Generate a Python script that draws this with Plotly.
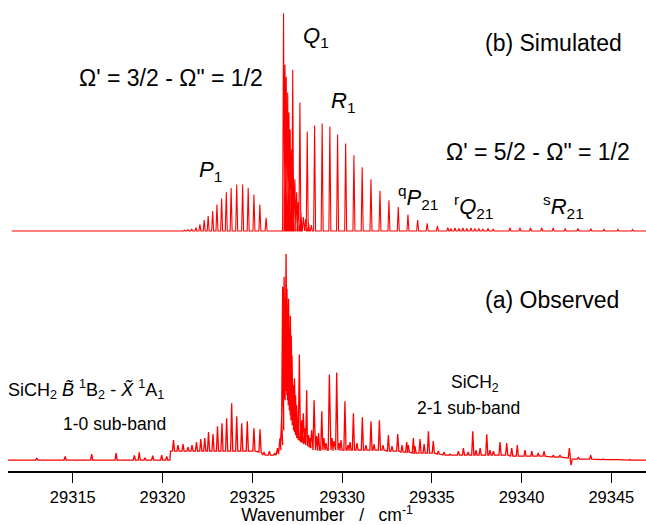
import plotly.graph_objects as go

# ---------------- data (wavenumber / cm-1, intensity in arbitrary units) ----------------
x_range = [29311.39, 29346.93]
tick_vals = [29315, 29320, 29325, 29330, 29335, 29340, 29345]

# Simulated spectrum: line positions and intensities
sim_P1_wn = [29321.02, 29321.22, 29321.41, 29321.62, 29321.86, 29322.08, 29322.32, 29322.54,
             29322.79, 29323.03, 29323.29, 29323.55, 29323.82, 29324.13, 29324.46, 29324.77,
             29325.09, 29325.42, 29325.77]
sim_P1_int = [0.5, 0.8, 1.3, 2, 3.3, 6.7, 11, 15, 20, 26.7, 32.7, 39, 43.3, 46.7, 46.7, 43.3,
              36.7, 26.7, 13.3]

sim_Q1_wn = [29326.74, 29326.82, 29326.89, 29326.97, 29327.04, 29327.11, 29327.19, 29327.28,
             29327.37, 29327.47, 29327.56, 29327.71, 29327.84, 29327.97, 29328.13, 29328.29]
sim_Q1_int = [218.7, 167, 155, 139, 119, 102, 82, 65, 52, 39, 29, 19, 14, 12, 8, 6]

sim_R1_wn = [29327.25, 29327.65, 29328.06, 29328.47, 29328.89, 29329.32, 29329.75, 29330.20,
             29330.66, 29331.12, 29331.61, 29332.11, 29332.61, 29333.13, 29333.67, 29334.21,
             29334.74, 29335.31, 29335.89]
sim_R1_int = [162, 129, 100, 106, 108, 105, 97, 88, 76, 64, 52, 40.5, 31, 24, 16.5, 11, 7.7,
              5.3, 3.5]

sim_rQ21_wn = [29336.06, 29336.29, 29336.51, 29336.73, 29336.95, 29337.18, 29337.40, 29337.62,
               29337.85, 29338.13, 29338.41]
sim_rQ21_int = [2.5, 3, 2.5, 3, 2.5, 3, 2.5, 2.5, 2, 2.5, 2]

sim_sR21_wn = [29339.35, 29339.91, 29340.50, 29341.12, 29341.76, 29342.43, 29343.14, 29343.86,
               29344.59, 29345.37, 29346.18]
sim_sR21_int = [3, 3, 3, 3, 3, 2.7, 2.5, 2.3, 2, 1.7, 1.5]

sim_span = [29311.6, 29346.93]

# Observed spectrum: feature positions, peak tops and local background (floor)
obs_wn = [29311.39, 29312.99, 29314.57, 29316.05, 29317.41, 29318.43, 29318.70, 29319.02,
          29319.45, 29319.95, 29320.23, 29320.35, 29320.50,
          29320.61, 29320.86, 29321.14, 29321.42, 29321.64, 29321.89, 29322.13, 29322.35,
          29322.56, 29322.81, 29323.06, 29323.31, 29323.57, 29323.85, 29324.13, 29324.41,
          29324.72, 29325.09, 29325.43, 29325.65, 29325.95, 29326.25, 29326.40,
          29326.54, 29326.63, 29326.69, 29326.77, 29326.82, 29326.88, 29326.93, 29326.98,
          29327.02, 29327.06, 29327.12, 29327.17, 29327.21, 29327.28, 29327.35, 29327.41,
          29327.47, 29327.53, 29327.62, 29327.69, 29327.75, 29327.84, 29327.91, 29328.03,
          29328.13, 29328.21, 29328.30, 29328.44, 29328.58, 29328.69, 29328.87, 29328.99,
          29329.11, 29329.29, 29329.44, 29329.55, 29329.70, 29329.83, 29329.94, 29330.16,
          29330.33, 29330.44, 29330.63, 29330.83, 29331.13, 29331.33, 29331.61, 29331.78,
          29332.08, 29332.28, 29332.58, 29332.78, 29333.10, 29333.34, 29333.60, 29333.69,
          29333.97, 29334.06, 29334.34, 29334.57, 29334.81, 29335.08, 29335.36, 29335.68,
          29336.01, 29336.48, 29336.76, 29337.02, 29337.28, 29337.46, 29337.69, 29338.06,
          29338.24, 29338.43, 29338.80, 29339.17, 29339.45, 29339.76, 29340.19, 29340.57,
          29340.93, 29341.25, 29341.77, 29342.14, 29342.66, 29342.76, 29343.16, 29343.85,
          29344.55, 29345.30, 29346.04, 29346.93]
obs_top = [0, 2, 3.7, 6, 7, 4.7, 7.7, 2.3,
           4.3, 5, 3.7, 0, 9,
           20, 15, 16, 13, 15, 18, 21, 22,
           28, 26, 34, 37, 42, 57, 44, 37,
           39, 32, 31, 8, 9, 7, 12,
           22, 42, 174, 184, 162, 207, 172, 149,
           162, 129, 145, 125, 105, 75, 82, 65,
           55, 42, 106, 37, 40, 47, 32, 70,
           25, 22, 30, 60, 24, 27, 49, 22,
           17, 86, 22, 19, 88, 17, 20, 59,
           15, 18, 47, 17, 43, 15, 39, 16,
           40, 15, 25, 14, 26, 15, 18, 15,
           22, 14, 21, 16, 29, 19, 9, 8,
           6, 9, 12, 8, 29, 10, 12, 26,
           10, 9, 18, 17, 12, 15, 10, 9,
           7, 9, 5, 5, 12, -5, 3, 5,
           1, 1, 0.5, 0]
obs_floor = [0, 0, 0, 0, 0, 0, 0, 0,
             0, 0, 0, 0, 9,
             9, 9, 9, 9, 9, 9, 9, 9,
             9, 9, 9, 9, 9, 9, 9, 9,
             9, 9, 8, 5, 5, 5, 6,
             10, 15, 30, 60, 70, 70, 70, 65,
             60, 55, 50, 45, 40, 35, 30, 28,
             25, 22, 20, 20, 18, 18, 16, 15,
             14, 13, 12, 10, 10, 10, 10, 10,
             10, 10, 10, 10, 10, 10, 10, 10,
             10, 10, 10, 10, 10, 10, 10, 10,
             10, 10, 9, 9, 9, 8, 8, 8,
             7, 7, 7, 7, 7, 7, 6, 5,
             5, 5, 5, 5, 5, 5, 5, 5,
             5, 5, 5, 5, 4, 4, 4, 4,
             4, 4, 3, 3, 2, 1, 1, 1,
             0.5, 0.5, 0, 0]

# ---------------- presentation ----------------
W, H = 646, 525
L, R, T, B = 8, 0, 0, 52
PLOT_H = H - T - B
SIM_OFFSET = 241
OBS_OFFSET = 11
RED = "#ff0000"
FONT = "Liberation Sans, Arial, Helvetica, sans-serif"


def stick_path(xs, tops, floors, w):
    px, py = [], []
    for x, t, f in sorted(zip(xs, tops, floors)):
        px += [x - w, x, x + w]
        py += [f, t, f]
    return px, py


sim_wn = sim_P1_wn + sim_Q1_wn + sim_R1_wn + sim_rQ21_wn + sim_sR21_wn
sim_int = sim_P1_int + sim_Q1_int + sim_R1_int + sim_rQ21_int + sim_sR21_int
sx, sy = stick_path(sim_wn, sim_int, [0] * len(sim_wn), 0.055)
sx = [sim_span[0]] + sx + [sim_span[1]]
sy = [0] + sy + [0]
sy = [v + SIM_OFFSET for v in sy]

ox, oy = stick_path(obs_wn, obs_top, obs_floor, 0.06)
oy = [v + OBS_OFFSET for v in oy]

fig = go.Figure()
fig.add_trace(go.Scatter(x=sx, y=sy, mode="lines", line=dict(color=RED, width=1.1),
                         hoverinfo="skip", showlegend=False))
fig.add_trace(go.Scatter(x=ox, y=oy, mode="lines", line=dict(color=RED, width=1.3),
                         hoverinfo="skip", showlegend=False))


def px2paper(xp, yp):
    return (xp - L) / (W - L - R), (H - B - yp) / PLOT_H


labels = [
    ("\u03a9' = 3/2 - \u03a9\" = 1/2", 77, 78, 23),
    ("(b) Simulated", 483, 43, 23),
    ("<i>Q</i><sub>1</sub>", 301, 37, 22),
    ("<i>R</i><sub>1</sub>", 329, 102, 22),
    ("<i>P</i><sub>1</sub>", 197, 172, 22),
    ("\u03a9' = 5/2 - \u03a9\" = 1/2", 444, 153, 23),
    ("<sup>q</sup><i>P</i><sub>21</sub>", 396, 198, 22),
    ("<sup>r</sup><i>Q</i><sub>21</sub>", 452, 207, 22),
    ("<sup>s</sup><i>R</i><sub>21</sub>", 541, 207, 22),
    ("(a) Observed", 483, 301, 23),
    ("SiCH<sub>2</sub> <i>B\u0303</i> <sup>1</sup>B<sub>2</sub> - <i>X\u0303</i> <sup>1</sup>A<sub>1</sub>", 6, 391, 18),
    ("1-0 sub-band", 61, 426, 17.5),
    ("SiCH<sub>2</sub>", 449, 385, 17.5),
    ("2-1 sub-band", 415, 410, 17.5),
]
for text, xp, yp, size in labels:
    ax, ay = px2paper(xp, yp)
    fig.add_annotation(text=text, xref="paper", yref="paper", x=ax, y=ay,
                       xanchor="left", yanchor="middle", showarrow=False,
                       font=dict(family=FONT, size=size, color="black"))

fig.update_layout(
    width=W, height=H,
    margin=dict(l=L, r=R, t=T, b=B, pad=0),
    paper_bgcolor="white", plot_bgcolor="white",
    font=dict(family=FONT, color="black"),
    xaxis=dict(range=x_range, tickvals=tick_vals, ticktext=[str(v) for v in tick_vals],
               showgrid=False, zeroline=False, showline=True, linecolor="black",
               linewidth=1.5, ticks="outside", ticklen=10, tickwidth=1.3,
               tickcolor="black", tickfont=dict(size=16.5),
               title=dict(text="Wavenumber\u00a0\u00a0\u00a0/\u00a0\u00a0\u00a0cm<sup>-1</sup>",
                          font=dict(size=17.5), standoff=7)),
    yaxis=dict(range=[0, PLOT_H], visible=False),
)

fig.write_html("out.html", config={"displayModeBar": False},
               post_script="document.body.style.margin='0';document.body.style.overflow='hidden';")
